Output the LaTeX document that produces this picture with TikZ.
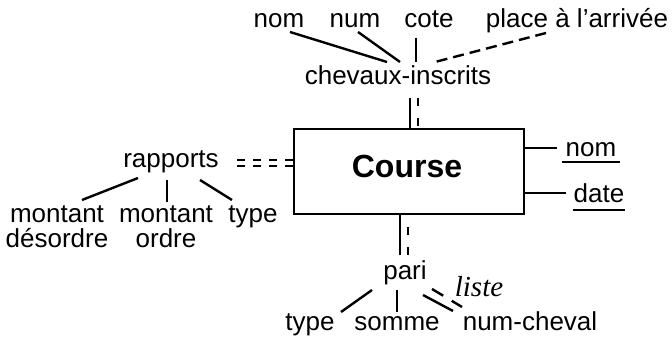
\documentclass[tikz,border=0pt]{standalone}
\usepackage{fontspec}
\setmainfont{Liberation Sans}
\newfontfamily\serifit{Liberation Serif}
\usetikzlibrary{calc}
\begin{document}
\begin{tikzpicture}[x=0.5pt,y=-0.5pt,
  lbl/.style={inner sep=0pt,anchor=base,font=\fontsize{13}{15}\selectfont},
  ln/.style={line width=1.2pt},
  dsh/.style={line width=1.2pt,dash pattern=on 5.5pt off 3pt},
  dshs/.style={line width=1.2pt,dash pattern=on 4pt off 6pt},
  dshd/.style={line width=1.2pt,dash pattern=on 4pt off 4pt}]
\useasboundingbox (0,0) rectangle (672,340);
% entity
\node[draw,line width=1.2pt,minimum width=115pt,minimum height=42.5pt,inner sep=0pt] (course) at (409,171.5) {};
\node[inner sep=0pt,anchor=base,font=\fontsize{16}{18}\selectfont\bfseries] (ctext) at (407,178) {Course};
% top group
\node[lbl] (tnom) at (279,28) {nom};
\node[lbl] (tnum) at (355,28) {num};
\node[lbl] (tcote) at (429,28) {cote};
\node[lbl] (tplace) at (577,28) {place à l’arrivée};
\node[lbl] (ci) at (398,85) {chevaux-inscrits};
\coordinate (a1) at (290,32); \coordinate (a1e) at (387,62);
\coordinate (a2) at (358,32); \coordinate (a2e) at (400,62);
\coordinate (a3) at (416,38); \coordinate (a3e) at (416,62);
\coordinate (a4) at (546,33); \coordinate (a4e) at (435,62);
\draw[ln] (a1) -- (a1e);
\draw[ln] (a2) -- (a2e);
\draw[ln] (a3) -- (a3e);
\draw[dsh] (a4) -- (a4e);
\coordinate (ci1) at (410,98); \coordinate (ci2) at (418,98);
\draw[ln] (ci1) -- (ci1 |- course.north);
\draw[dshs] (ci2) -- (ci2 |- course.north);
% right attributes
\node[lbl] (rnom) at (591,157) {nom};
\node[lbl] (rdate) at (599,203) {date};
\draw[ln] (course.east |- 0,148) -- (557,148);
\draw[ln] (course.east |- 0,193) -- (566,193);
\draw[line width=0.8pt] ($(rnom.base west)+(-3,5)$) -- ($(rnom.base east)+(3,5)$);
\draw[line width=0.8pt] ($(rdate.base west)+(0,7)$) -- ($(rdate.base east)+(0,7)$);
% rapports
\node[lbl] (rap) at (171,168) {rapports};
\coordinate (r0) at (237,160); \coordinate (r1) at (237,166);
\draw[dshd] (r0) -- (r0 -| course.west);
\draw[dshd] (r1) -- (r1 -| course.west);
\node[lbl] (md) at (57,223) {montant};
\node[lbl] (md2) at (57,248) {désordre};
\node[lbl] (mo) at (166,223) {montant};
\node[lbl] (mo2) at (166,248) {ordre};
\node[lbl] (rtype) at (253,223) {type};
\draw[ln] (138,178) coordinate (b1) -- (82,200) coordinate (b1e);
\draw[ln] (167,180) coordinate (b2) -- (167,202) coordinate (b2e);
\draw[ln] (200,180) coordinate (b3) -- (232,200) coordinate (b3e);
% pari
\node[lbl] (pari) at (405,280) {pari};
\coordinate (p1) at (400,255); \coordinate (p2) at (408,255);
\draw[ln] (p1) -- (p1 |- course.south);
\draw[dshs] (p2) -- ($(p2 |- course.south)+(0,-2)$);
\node[lbl] (ptype) at (310,331) {type};
\node[lbl] (psomme) at (397,331) {somme};
\node[lbl] (pnum) at (530,331) {num-cheval};
\node[inner sep=0pt,anchor=base,font=\fontsize{14.5}{16}\selectfont\serifit\itshape] (liste) at (479,297) {liste};
\draw[ln] (372,290) coordinate (c1) -- (341,312) coordinate (c1e);
\draw[ln] (397,290) coordinate (c2) -- (397,312) coordinate (c2e);
\draw[ln] (423,295) coordinate (c3) -- (453,311) coordinate (c3e);
\draw[line width=1.2pt,dash pattern=on 6.5pt off 5pt] (432,289) coordinate (c4) -- (462,307) coordinate (c4e);
\end{tikzpicture}
\end{document}
